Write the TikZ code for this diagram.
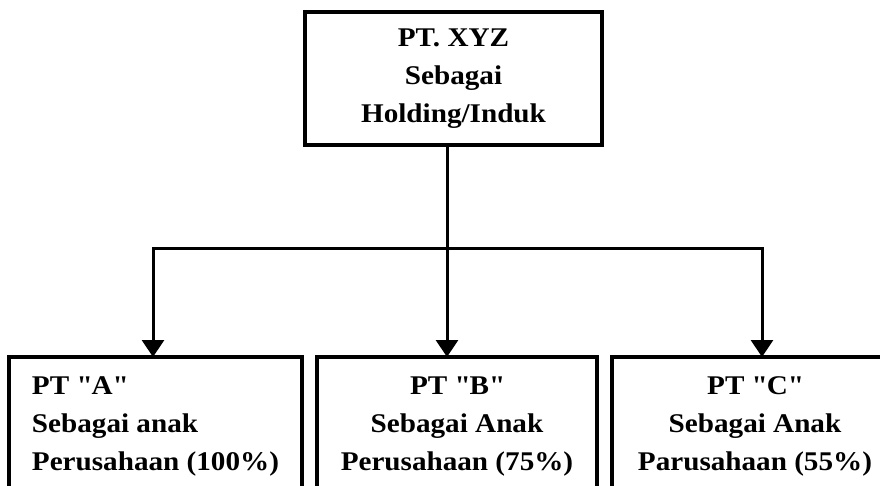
\documentclass[tikz,border=0pt]{standalone}
\usepackage{fontspec}
\setmainfont{Liberation Serif}[FakeStretch=1.08]
\usetikzlibrary{arrows.meta}

\begin{document}
\begin{tikzpicture}[x=1pt, y=-1pt, >={Triangle[width=22pt, length=17pt]},
    kotak/.style={draw, line width=3.5pt, inner xsep=0pt, inner ysep=0pt, outer sep=0pt,
        font=\fontsize{27}{38}\selectfont\bfseries},
    anak/.style={kotak, anchor=north west, align=center, text height=113pt, text depth=27pt},
    garis/.style={line width=3pt}]
    \useasboundingbox (0,0) rectangle (880,486);
    \node[kotak, anchor=north west, minimum width=297pt, minimum height=133pt, align=center] (induk) at (305,12)
        {PT. XYZ\\Sebagai\\Holding/Induk};
    \node[anak, align=left, minimum width=293pt] (anakA) at (9,357)
        {PT \textquotedbl A\textquotedbl\\Sebagai anak\\Perusahaan (100\%)};
    \node[anak, minimum width=280pt] (anakB) at (317,357)
        {PT \textquotedbl B\textquotedbl\\Sebagai Anak\\Perusahaan (75\%)};
    \node[anak, minimum width=286pt] (anakC) at (612,357)
        {PT \textquotedbl C\textquotedbl\\Sebagai Anak\\Parusahaan (55\%)};
    \coordinate (cabang) at (447,249);
    \coordinate (kiri) at (153,249);
    \coordinate (kanan) at (762,249);
    \draw[garis, ->] (cabang |- induk.south) -- (cabang |- anakB.north);
    \draw[garis, <->] (kiri |- anakA.north) -- (kiri) -- (kanan) -- (kanan |- anakC.north);
\end{tikzpicture}
\end{document}
